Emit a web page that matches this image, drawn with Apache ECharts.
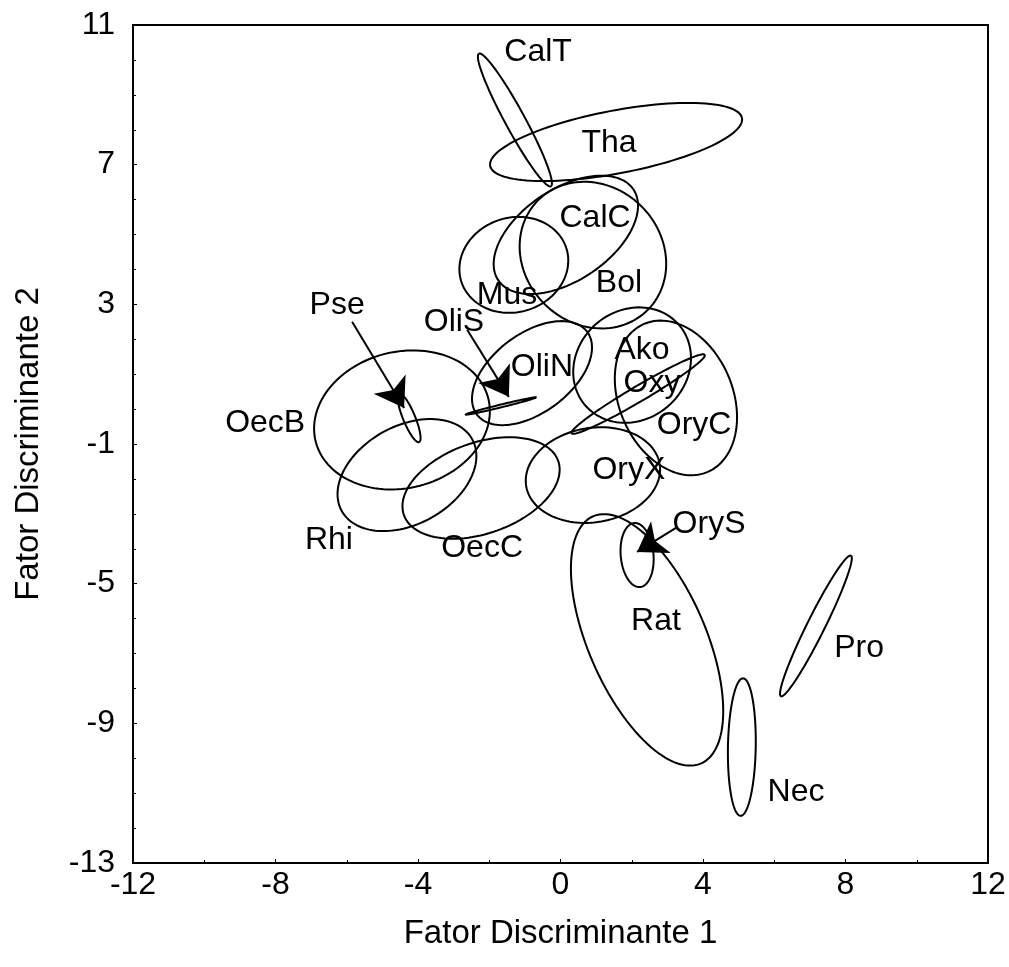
<!DOCTYPE html>
<html>
<head>
<meta charset="utf-8">
<script src="https://cdn.jsdelivr.net/npm/echarts@6/dist/echarts.min.js"></script>
<style>
html,body{margin:0;padding:0;background:#fff;}
#chart{width:1009px;height:967px;}
</style>
</head>
<body>
<div id="chart"></div>
<script>
// Group names
const groups = ['CalT','Tha','CalC','Mus','Bol','Pse','OliS','OliN','OecB','Rhi','OecC','OryX','Ako','OryC','Oxy','OryS','Rat','Pro','Nec'];
// Ellipse centres (Fator 1, Fator 2)
const centerX = [-1.28, 1.56, 0.15, -1.31, 0.91, -4.25, -1.67, -0.80, -4.45, -4.31, -2.23, 0.91, 2.01, 3.24, 2.18, 2.15, 2.43, 7.17, 5.09];
const centerY = [8.28, 7.65, 4.99, 4.13, 4.41, -0.25, 0.09, 1.03, -0.31, -1.89, -2.26, -1.89, 1.26, 0.32, 0.43, -4.18, -6.61, -6.21, -9.68];
// Semi-axes and orientation (degrees)
const semiMajor = [2.15, 3.6, 2.3, 1.55, 2.2, 0.75, 1.02, 1.95, 2.5, 2.1, 2.3, 1.9, 1.75, 2.3, 2.18, 0.92, 3.85, 2.24, 1.97];
const semiMinor = [0.28, 0.9, 1.3, 1.35, 1.95, 0.17, 0.04, 1.12, 1.95, 1.4, 1.3, 1.35, 1.55, 1.6, 0.22, 0.46, 1.65, 0.25, 0.39];
const angleDeg = [118, 11, 35, 20, -50, 112, 14, 38, 15, 30, 20, 10, 45, 112, 31, 95, 113, 64, 89];
// Label positions
const labelX = [-0.63, 1.36, 0.97, -1.50, 1.64, -6.27, -2.99, -0.52, -8.29, -6.50, -2.20, 1.92, 2.29, 3.75, 2.57, 4.17, 2.68, 8.38, 6.61];
const labelY = [10.23, 7.62, 5.47, 3.27, 3.61, 2.98, 2.5, 1.21, -0.40, -3.75, -3.98, -1.74, 1.69, -0.45, 0.75, -3.29, -6.07, -6.84, -10.96];
// Arrows (from label to small ellipse)
const arrowFromX = [-5.85, -2.62, 3.24];
const arrowFromY = [2.5, 2.27, -3.40];
const arrowToX = [-4.39, -1.45, 2.15];
const arrowToY = [0.03, 0.35, -4.09];
// Axis ticks
const xTicks = [-12, -8, -4, 0, 4, 8, 12];
const yTicks = [-13, -9, -5, -1, 3, 7, 11];

const FONT = '"Liberation Sans", Arial, sans-serif';

const ellipseData = groups.map((g, i) => [centerX[i], centerY[i], semiMajor[i], semiMinor[i], angleDeg[i]]);
const labelData = groups.map((g, i) => [labelX[i], labelY[i], g]);
const arrowData = arrowFromX.map((x, i) => ({coords: [[x, arrowFromY[i]], [arrowToX[i], arrowToY[i]]]}));

function renderEllipse(params, api) {
  const cx = api.value(0), cy = api.value(1), a = api.value(2), b = api.value(3);
  const th = api.value(4) * Math.PI / 180;
  const pts = [];
  const N = 120;
  for (let k = 0; k <= N; k++) {
    const t = 2 * Math.PI * k / N;
    const ex = a * Math.cos(t), ey = b * Math.sin(t);
    pts.push(api.coord([cx + ex * Math.cos(th) - ey * Math.sin(th), cy + ex * Math.sin(th) + ey * Math.cos(th)]));
  }
  return {type: 'polyline', shape: {points: pts}, style: {fill: null, stroke: '#000', lineWidth: 2}};
}

function renderLabel(params, api) {
  const p = api.coord([api.value(0), api.value(1)]);
  return {type: 'text', x: p[0], y: p[1], style: {text: labelData[params.dataIndex][2], fontSize: 32, fontFamily: FONT, fill: '#000', align: 'center', verticalAlign: 'middle'}};
}

const chart = echarts.init(document.getElementById('chart'), null, {renderer: 'canvas'});
chart.setOption({
  animation: false,
  backgroundColor: '#fff',
  grid: {left: 133, right: 21, top: 25, bottom: 104, show: true, borderColor: '#000', borderWidth: 2, backgroundColor: 'transparent'},
  xAxis: {
    type: 'value', min: xTicks[0], max: xTicks[xTicks.length - 1], interval: 4,
    name: 'Fator Discriminante 1', nameLocation: 'middle', nameGap: 54,
    nameTextStyle: {fontSize: 33, fontFamily: FONT, color: '#000'},
    axisLine: {show: true, onZero: false, lineStyle: {color: '#000', width: 2}},
    axisTick: {show: true, inside: true, length: 4, lineStyle: {color: '#000'}},
    minorTick: {show: true, splitNumber: 2, length: 3, lineStyle: {color: '#000'}},
    axisLabel: {fontSize: 32, fontFamily: FONT, color: '#000', margin: 6},
    splitLine: {show: false}
  },
  yAxis: {
    type: 'value', min: yTicks[0], max: yTicks[yTicks.length - 1], interval: 4,
    name: 'Fator Discriminante 2', nameLocation: 'middle', nameGap: 88, nameRotate: 90,
    nameTextStyle: {fontSize: 33, fontFamily: FONT, color: '#000'},
    axisLine: {show: true, onZero: false, lineStyle: {color: '#000', width: 2}},
    axisTick: {show: true, inside: true, length: 4, lineStyle: {color: '#000'}},
    minorTick: {show: true, splitNumber: 4, length: 3, lineStyle: {color: '#000'}},
    axisLabel: {fontSize: 32, fontFamily: FONT, color: '#000', margin: 18},
    splitLine: {show: false}
  },
  series: [
    {type: 'custom', coordinateSystem: 'cartesian2d', renderItem: renderEllipse, data: ellipseData, encode: {x: 0, y: 1}, silent: true, clip: false},
    {type: 'lines', coordinateSystem: 'cartesian2d', data: arrowData, symbol: ['none', 'arrow'], symbolSize: [0, 28], lineStyle: {color: '#000', width: 2, opacity: 1}, silent: true},
    {type: 'custom', coordinateSystem: 'cartesian2d', renderItem: renderLabel, data: labelData, encode: {x: 0, y: 1}, silent: true, clip: false}
  ]
});
</script>
</body>
</html>
